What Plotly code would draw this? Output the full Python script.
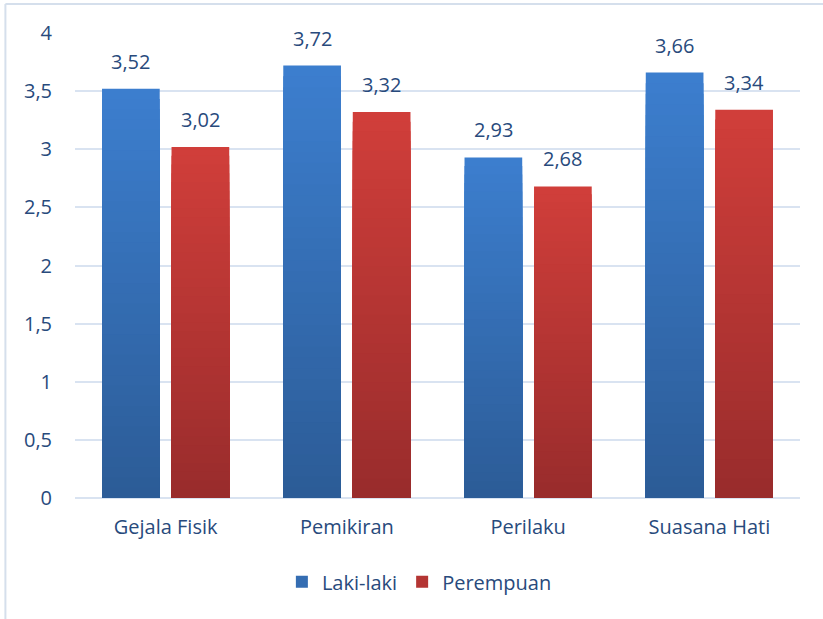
import plotly.graph_objects as go

categories = ["Gejala Fisik", "Pemikiran", "Perilaku", "Suasana Hati"]
laki = [3.52, 3.72, 2.93, 3.66]
perempuan = [3.02, 3.32, 2.68, 3.34]
series_names = ["Laki-laki", "Perempuan"]
y_ticks = [0, 0.5, 1, 1.5, 2, 2.5, 3, 3.5, 4]

TXT = "#284A7C"
FONT = "Open Sans"
N = 40
BARGAP = 0.233
GROUPGAP = 0.17

def lerp(c1, c2, t):
    return "rgb(%d,%d,%d)" % tuple(round(a + (b - a) * t) for a, b in zip(c1, c2))

grad = {
    "Laki-laki": ((0x3C, 0x7E, 0xCE), (0x2C, 0x5C, 0x97)),
    "Perempuan": ((0xD0, 0x3E, 0x3A), (0x99, 0x2C, 0x2C)),
}

fig = go.Figure()
for name, vals in zip(series_names, [laki, perempuan]):
    top, bot = grad[name]
    for i in range(N):
        frac = (N - i) / N          # tallest first, then shorter & darker on top
        t = 1 - i / (N - 1)
        fig.add_trace(go.Bar(
            x=categories, y=[v * frac for v in vals], base=0,
            offsetgroup=name, legendgroup=name, name=name,
            showlegend=(i == N // 2),
            marker=dict(color=lerp(bot, top, t), line=dict(width=0)),
            hoverinfo="skip" if i else None,
        ))

# value labels
plot_w = 823 - 75 - 23
cat_w = plot_w / len(categories)
slot = cat_w * (1 - BARGAP) / 2
annotations = []
for k, (name, vals) in enumerate(zip(series_names, [laki, perempuan])):
    shift = (k - 0.5) * slot
    for c, v in zip(categories, vals):
        annotations.append(dict(
            x=c, y=v, xref="x", yref="y", xshift=shift, yshift=12,
            text=f"{v:.2f}".replace(".", ","), showarrow=False,
            yanchor="bottom", font=dict(size=20, color=TXT, family=FONT)))

fig.update_layout(
    width=823, height=619,
    margin=dict(l=75, r=23, t=33, b=121),
    paper_bgcolor="white", plot_bgcolor="white",
    barmode="group", bargap=BARGAP, bargroupgap=GROUPGAP,
    separators=", ",
    font=dict(family=FONT, color=TXT, size=20),
    annotations=annotations,
    legend=dict(orientation="h", x=0.475, xanchor="center", y=-0.18, yanchor="middle",
                font=dict(size=20, color=TXT), traceorder="normal"),
    showlegend=True,
    shapes=[
        dict(type="line", xref="paper", yref="paper", x0=-0.096, x1=1.05, y0=1.0625, y1=1.0625,
             line=dict(color="#D5DFEC", width=2)),
        dict(type="line", xref="paper", yref="paper", x0=-0.096, x1=-0.096, y0=-0.3, y1=1.0625,
             line=dict(color="#D5DFEC", width=2)),
    ],
)
fig.update_xaxes(showline=False, showgrid=False, ticks="outside", ticklen=11, tickcolor="white",
                 tickfont=dict(size=20, color=TXT))
fig.update_yaxes(range=[0, 4], tickvals=y_ticks, showgrid=True, gridcolor="#D9E3F1", gridwidth=2,
                 zeroline=True, zerolinecolor="#D9E3F1", zerolinewidth=2,
                 ticks="outside", ticklen=18, tickcolor="white",
                 tickfont=dict(size=20, color=TXT))

fig.write_html("out.html")
